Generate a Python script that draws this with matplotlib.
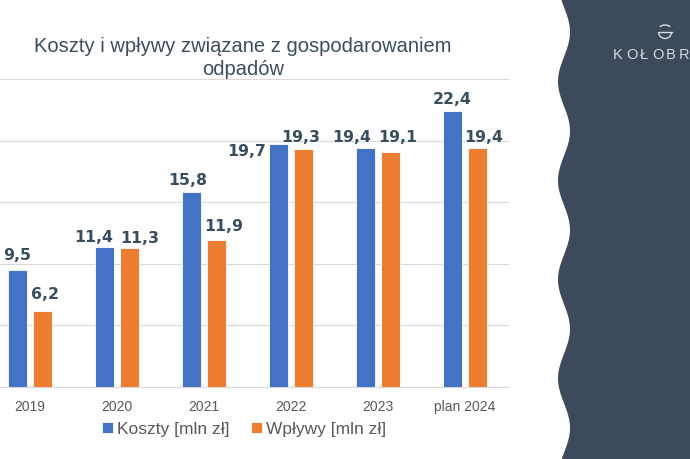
import numpy as np
import matplotlib
matplotlib.use("Agg")
import matplotlib.pyplot as plt
from matplotlib.patches import Polygon, Circle, Arc

years = ["2019", "2020", "2021", "2022", "2023", "plan 2024"]
koszty = [9.5, 11.4, 15.8, 19.7, 19.4, 22.4]
wplywy = [6.2, 11.3, 11.9, 19.3, 19.1, 19.4]
series_names = ["Koszty [mln zł]", "Wpływy [mln zł]"]

# hand-placed data labels (pixel nudges from bar top centre), as on the slide
koszty_nudge = [(0, 15), (-11, 10), (-4, 13), (-32, -6), (-14, 11), (0, 13)]
wplywy_nudge = [(2.5, 17), (10.5, 10), (7, 15), (-2.5, 13), (7.5, 15), (6.5, 11)]

BLUE = "#4472C4"
ORANGE = "#ED7D31"
SLATE = "#3c4a5b"
LABEL = "#3a4d60"
GRAY = "#595959"
LOGO = "#d5dade"

W, H = 690, 460
fig = plt.figure(figsize=(6.9, 4.6), dpi=100)
fig.patch.set_facecolor("white")

# plot area runs off the left edge like in the slide
left_px, right_px = -13.5, 508.5
top_px, bottom_px = 80, 388
ax = fig.add_axes([left_px / W, 1 - bottom_px / H,
                   (right_px - left_px) / W, (bottom_px - top_px) / H])

x = np.arange(len(years))
bw = 0.225
off = 0.145
b1 = ax.bar(x - off, koszty, bw, color=BLUE, edgecolor="white", linewidth=0.6, zorder=3)
b2 = ax.bar(x + off, wplywy, bw, color=ORANGE, edgecolor="white", linewidth=0.6, zorder=3)

for bars, vals, nudge in ((b1, koszty, koszty_nudge), (b2, wplywy, wplywy_nudge)):
    for r, v, (dx, dy) in zip(bars, vals, nudge):
        ax.annotate(f"{v:.1f}".replace(".", ","),
                    (r.get_x() + r.get_width() / 2, v),
                    xytext=(dx, dy), textcoords="offset pixels",
                    ha="center", va="center", fontsize=11.3, fontweight="bold",
                    family="DejaVu Sans", color=LABEL, zorder=4)

ax.set_xlim(-0.5, 5.5)
ax.set_ylim(0, 25)
ax.set_yticks(np.arange(0, 26, 5))
ax.yaxis.grid(True, color="#d9d9d9", linewidth=0.8, zorder=0)
ax.tick_params(axis="y", left=False, labelleft=False)
ax.tick_params(axis="x", bottom=False, pad=5)
ax.set_xticks(x)
ax.set_xticklabels(years, fontsize=10, color=GRAY, family="Liberation Sans")
for s in ("top", "right", "left"):
    ax.spines[s].set_visible(False)
ax.spines["bottom"].set_color("#d9d9d9")
ax.set_facecolor("none")

leg = fig.legend([b1, b2], series_names, loc="center",
                 bbox_to_anchor=(244 / W, 1 - 430 / H), ncol=2,
                 frameon=False, handlelength=0.65, handleheight=0.65,
                 handletextpad=0.25, columnspacing=1.2,
                 prop={"family": "Liberation Sans", "size": 12.5})
for t in leg.get_texts():
    t.set_color(GRAY)

fig.text(243 / W, 1 - 58 / H,
         "Koszty i wpływy związane z gospodarowaniem\nodpadów",
         ha="center", va="center", fontsize=14.5, color=LABEL,
         family="Liberation Sans", linespacing=1.28)

# wavy dark panel on the right
yy = np.linspace(0, H, 300)
xx = 564 + 6 * np.cos(2 * np.pi * (yy - 33) / 99)
pts = [(xi / W, 1 - yi / H) for xi, yi in zip(xx, yy)]
pts += [(1, 0), (1, 1)]
fig.patches.append(Polygon(pts, closed=True, transform=fig.transFigure,
                           facecolor=SLATE, edgecolor="none", zorder=5))

# small logo: bowl with a lid arc, then the spaced-out town name
cx, cy = 665 / W, 1 - 33 / H
fig.patches.append(Arc((cx, cy), 13 / W, 13 / H, theta1=180, theta2=360,
                       transform=fig.transFigure, edgecolor=LOGO, lw=1.0, zorder=6))
fig.patches.append(Arc((cx, cy + 3 / H), 12 / W, 8 / H, theta1=30, theta2=150,
                       transform=fig.transFigure, edgecolor=LOGO, lw=1.0, zorder=6))
fig.add_artist(plt.Line2D([cx - 6.5 / W, cx + 6.5 / W], [cy, cy],
                          transform=fig.transFigure, color=LOGO, lw=1.0, zorder=6))
for i, ch in enumerate("KOŁOBR"):
    fig.text((613 + 13.2 * i) / W, 1 - 55 / H, ch, fontsize=10.5,
             color=LOGO, family="Liberation Sans", ha="left", va="center", zorder=7)

fig.savefig("out.png", dpi=100)
